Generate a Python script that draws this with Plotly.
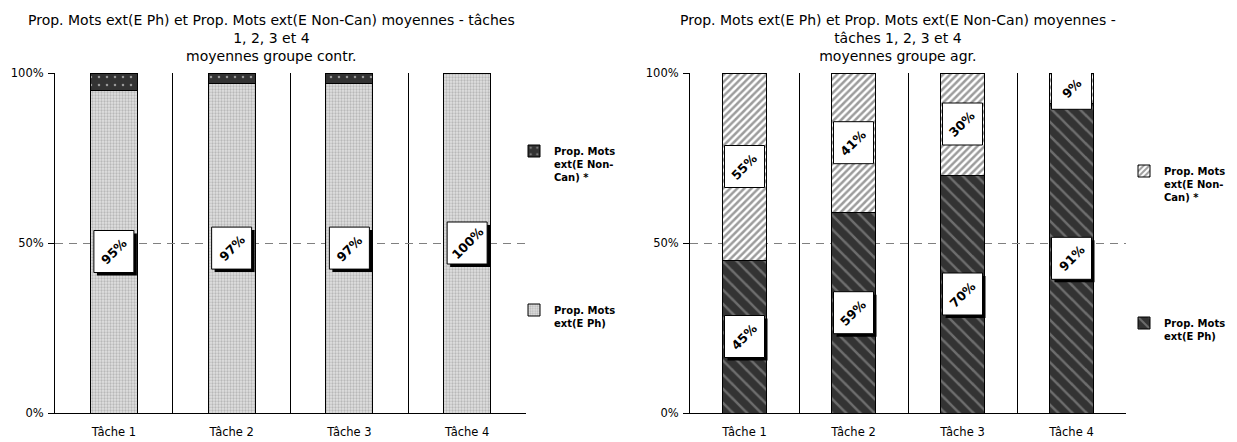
import plotly.graph_objects as go
from plotly.subplots import make_subplots

categories = ["Tâche 1", "Tâche 2", "Tâche 3", "Tâche 4"]
contr_ph = [95, 97, 97, 100]
contr_noncan = [5, 3, 3, 0]
agr_ph = [45, 59, 70, 91]
agr_noncan = [55, 41, 30, 9]
y_ticks = [0, 50, 100]
y_ticktext = ["0%", "50%", "100%"]

name_noncan = "Prop. Mots<br>ext(E Non-<br>Can) *"
name_ph = "Prop. Mots<br>ext(E Ph)"
title_left = "Prop. Mots ext(E Ph) et Prop. Mots ext(E Non-Can) moyennes - tâches<br>1, 2, 3 et 4<br>moyennes groupe contr."
title_right = "Prop. Mots ext(E Ph) et Prop. Mots ext(E Non-Can) moyennes -<br>tâches 1, 2, 3 et 4<br>moyennes groupe agr."

W, H = 1237, 442
FONT = "DejaVu Sans, Liberation Sans, Arial, sans-serif"

fig = make_subplots(rows=1, cols=2)

line = dict(color="black", width=1)

fig.add_trace(go.Bar(x=categories, y=contr_ph, name=name_ph, legend="legend2",
                     marker=dict(color="#d0d0d0", line=line,
                                 pattern=dict(shape=".", bgcolor="#e0e0e0", fgcolor="#909090",
                                              size=3, solidity=0.45))),
              row=1, col=1)
fig.add_trace(go.Bar(x=categories, y=contr_noncan, name=name_noncan, legend="legend",
                     marker=dict(color="#333333", line=line,
                                 pattern=dict(shape=".", bgcolor="#333333", fgcolor="#ffffff",
                                              size=8, solidity=0.08))),
              row=1, col=1)
fig.add_trace(go.Bar(x=categories, y=agr_ph, name=name_ph, legend="legend4",
                     marker=dict(color="#333333", line=line,
                                 pattern=dict(shape="\\", bgcolor="#333333", fgcolor="#a8a8a8",
                                              size=10, solidity=0.25))),
              row=1, col=2)
fig.add_trace(go.Bar(x=categories, y=agr_noncan, name=name_noncan, legend="legend3",
                     marker=dict(color="#ffffff", line=line,
                                 pattern=dict(shape="/", bgcolor="#ffffff", fgcolor="#3a3a3a",
                                              size=5, solidity=0.5))),
              row=1, col=2)

ydom = [1 - 413 / H, 1 - 73 / H]
fig.update_layout(
    width=W, height=H, margin=dict(l=0, r=0, t=0, b=0, autoexpand=False),
    paper_bgcolor="white", plot_bgcolor="white",
    barmode="stack", bargap=0.6, showlegend=True,
    font=dict(family=FONT, size=11, color="black"),
    xaxis=dict(domain=[55 / W, 526 / W]),
    xaxis2=dict(domain=[690 / W, 1126 / W]),
)
for ax in ["xaxis", "xaxis2"]:
    fig.layout[ax].update(tickson="boundaries", showgrid=True, gridcolor="black", gridwidth=1,
                          showline=True, linecolor="black", linewidth=1, ticks="",
                          tickfont=dict(size=11.5, family=FONT), zeroline=False,
                          automargin=False, ticklabelstandoff=8)
for ax in ["yaxis", "yaxis2"]:
    fig.layout[ax].update(domain=ydom, range=[0, 100], tickvals=y_ticks, ticktext=y_ticktext,
                          showgrid=True, gridcolor="#808080", griddash="8px,6px", gridwidth=1,
                          showline=True, linecolor="black", linewidth=1, ticks="outside",
                          ticklen=6, tickcolor="black", zeroline=False, automargin=False,
                          tickfont=dict(size=11.5, family=FONT), ticklabelstandoff=2)

legfont = dict(family=FONT, size=10, color="black", weight="bold")
for lname, lx, ly in [("legend", 514, 138), ("legend2", 514, 297),
                      ("legend3", 1124, 158), ("legend4", 1124, 310)]:
    fig.layout[lname] = dict(x=lx / W, y=1 - ly / H, xref="container", yref="container",
                             xanchor="left", yanchor="top",
                             font=legfont, bgcolor="rgba(0,0,0,0)", valign="top",
                             itemwidth=30, tracegroupgap=0)

# titles
fig.add_annotation(text=title_left, x=271 / W, y=1 - 10 / H, xref="paper", yref="paper",
                   xanchor="center", yanchor="top", showarrow=False,
                   font=dict(family=FONT, size=14, color="black"))
fig.add_annotation(text=title_right, x=898 / W, y=1 - 10 / H, xref="paper", yref="paper",
                   xanchor="center", yanchor="top", showarrow=False,
                   font=dict(family=FONT, size=14, color="black"))

shapes = []
annotations = []


def add_label(xref, yref, cat_idx, ymid, val, shadow):
    if shadow:
        shapes.append(dict(type="rect", xref=xref, yref=yref, xsizemode="pixel", ysizemode="pixel",
                           xanchor=cat_idx, yanchor=ymid, x0=-17, x1=23, y0=-24, y1=18,
                           fillcolor="black", line=dict(width=0)))
    shapes.append(dict(type="rect", xref=xref, yref=yref, xsizemode="pixel", ysizemode="pixel",
                       xanchor=cat_idx, yanchor=ymid, x0=-20, x1=20, y0=-21, y1=21,
                       fillcolor="white", line=dict(color="black", width=1)))
    annotations.append(dict(xref=xref, yref=yref, x=cat_idx, y=ymid, text=f"{val}%",
                            textangle=-45, showarrow=False,
                            font=dict(family=FONT, size=12.5, color="black", weight="bold")))


for i, v in enumerate(contr_ph):
    add_label("x", "y", i, v / 2, v, True)
for i, (p, n) in enumerate(zip(agr_ph, agr_noncan)):
    add_label("x2", "y2", i, p / 2, p, True)
    add_label("x2", "y2", i, p + n / 2, n, False)

for s in shapes:
    fig.add_shape(**s)
for a in annotations:
    fig.add_annotation(**a)

fig.write_html("out.html", config={"displayModeBar": False},
               post_script="document.body.style.margin='0';")
